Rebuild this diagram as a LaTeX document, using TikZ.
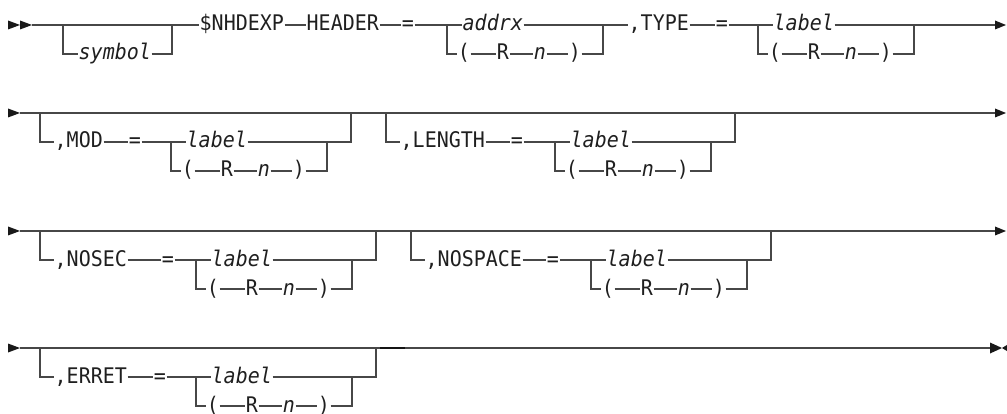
\documentclass[tikz,border=0pt]{standalone}
\usepackage{fontspec}
\newfontfamily\rrmono{DejaVu Sans Mono}[FakeStretch=0.93]
\tikzset{
  rr/.style={line width=1.2pt, draw=black!72},
  rrdark/.style={line width=1.7pt, draw=black!92},
  txt/.style={font=\rrmono\fontsize{21.5}{25}\selectfont, text=black!88, inner sep=0.5pt,
              text height=16pt, text depth=4pt, anchor=west},
  txtc/.style={txt, anchor=center},
  tipfill/.style={fill=black!90}
}
% choice block: name, left x, top y, upper text
\newcommand{\rrchoice}[4]{%
  \coordinate (#1-L) at (#2,#3);
  \coordinate (#1-R) at ({#2+156},#3);
  \coordinate (#1-BL) at (#2,{#3+29});
  \coordinate (#1-BR) at ({#2+156},{#3+29});
  \node[txt] (#1-u) at ({#2+15},#3) {\itshape #4};
  \node[txtc] (#1-p1) at ({#2+17},{#3+29}) {(};
  \node[txtc] (#1-r) at ({#2+56},{#3+29}) {R};
  \node[txtc] (#1-n) at ({#2+93},{#3+29}) {\itshape n};
  \node[txtc] (#1-p2) at ({#2+128},{#3+29}) {)};
  \draw[rr] (#1-L) -- (#1-u.west);
  \draw[rr] (#1-u.east) -- (#1-R);
  \draw[rr] (#1-L) -- (#1-BL) -- (#1-p1.west);
  \draw[rr] (#1-p1.east) -- (#1-r.west);
  \draw[rr] (#1-r.east) -- (#1-n.west);
  \draw[rr] (#1-n.east) -- (#1-p2.west);
  \draw[rr] (#1-p2.east) -- (#1-BR) -- (#1-R);
}
% optional block: name, L0, y, ylow, keyword, eq x, inner L, upper text
\newcommand{\rropt}[8]{%
  \coordinate (#1-L) at (#2,#3);
  \coordinate (#1-BL) at (#2,#4);
  \coordinate (#1-R) at ({#7+180},#3);
  \coordinate (#1-BR) at ({#7+180},#4);
  \node[txt] (#1-k) at ({#2+14},#4) {#5};
  \node[txtc] (#1-eq) at (#6,#4) {=};
  \rrchoice{#1c}{#7}{#4}{#8}
  \draw[rr] (#1-L) -- (#1-BL) -- (#1-k.west);
  \draw[rr] (#1-k.east) -- (#1-eq.west);
  \draw[rr] (#1-eq.east) -- (#1c-L);
  \draw[rr] (#1c-R) -- (#1-BR) -- (#1-R);
}
\begin{document}
\begin{tikzpicture}[x=1pt,y=-1pt]
\useasboundingbox (0,0) rectangle (1007,414);
% ---------- row 1 ----------
\fill[tipfill] (8,20.5) -- (20,25) -- (8,29.5) -- cycle;
\fill[tipfill] (20,20.5) -- (32,25) -- (20,29.5) -- cycle;
\coordinate (r1s) at (32,25);
\coordinate (s-L) at (63,25);  \coordinate (s-BL) at (63,54);
\coordinate (s-R) at (172,25); \coordinate (s-BR) at (172,54);
\node[txt] (sym) at (78,54) {\itshape symbol};
\node[txt] (nhd) at (199,25) {\$NHDEXP};
\node[txt] (hdr) at (306,25) {HEADER};
\node[txtc] (eq1) at (408,25) {=};
\rrchoice{hc}{447}{25}{addrx}
\node[txt] (typ) at (628,25) {,TYPE};
\node[txtc] (eq2) at (722,25) {=};
\rrchoice{tc}{758}{25}{label}
\coordinate (r1e) at (995,25);
\fill[tipfill] (995,20.5) -- (1006,25) -- (995,29.5) -- cycle;
\draw[rr] (r1s) -- (s-L) -- (s-R) -- (nhd.west);
\draw[rr] (s-L) -- (s-BL) -- (sym.west);
\draw[rr] (sym.east) -- (s-BR) -- (s-R);
\draw[rr] (nhd.east) -- (hdr.west);
\draw[rr] (hdr.east) -- (eq1.west);
\draw[rr] (eq1.east) -- (hc-L);
\draw[rr] (hc-R) -- (typ.west);
\draw[rr] (typ.east) -- (eq2.west);
\draw[rr] (eq2.east) -- (tc-L);
\draw[rr] (tc-R) -- (r1e);
% ---------- row 2 ----------
\fill[tipfill] (8,108.5) -- (20,113) -- (8,117.5) -- cycle;
\coordinate (r2s) at (20,113);
\coordinate (r2e) at (995,113);
\fill[tipfill] (995,108.5) -- (1006,113) -- (995,117.5) -- cycle;
\draw[rr] (r2s) -- (r2e);
\rropt{mod}{40}{113}{142}{,MOD}{135}{171}{label}
\rropt{len}{386}{113}{142}{,LENGTH}{517}{555}{label}
% ---------- row 3 ----------
\fill[tipfill] (8,226.5) -- (20,231) -- (8,235.5) -- cycle;
\coordinate (r3s) at (20,231);
\coordinate (r3e) at (995,231);
\fill[tipfill] (995,226.5) -- (1006,231) -- (995,235.5) -- cycle;
\draw[rr] (r3s) -- (r3e);
\rropt{nsec}{40}{231}{260}{,NOSEC}{168}{196}{label}
\rropt{nspc}{411}{231}{260}{,NOSPACE}{553}{591}{label}
% ---------- row 4 ----------
\fill[tipfill] (8,343.5) -- (20,348) -- (8,352.5) -- cycle;
\coordinate (r4s) at (20,348);
\coordinate (r4e) at (990,348);
\fill[tipfill] (990,342.5) -- (1002,348) -- (990,353.5) -- cycle;
\fill[tipfill] (1011,342.5) -- (1002,348) -- (1011,353.5) -- cycle;
\draw[rr] (r4s) -- (r4e);
\rropt{err}{40}{348}{377}{,ERRET}{160}{196}{label}
\coordinate (dsh-a) at (380,348);
\coordinate (dsh-b) at (405,348);
\draw[rrdark] (dsh-a) -- (dsh-b);
\end{tikzpicture}
\end{document}
